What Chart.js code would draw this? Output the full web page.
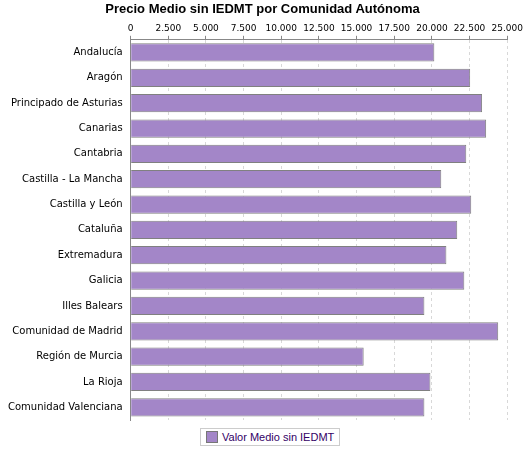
<!DOCTYPE html>
<html><head><meta charset="utf-8">
<script src="https://cdn.jsdelivr.net/npm/chart.js@4"></script>
<style>body{margin:0;background:#fff}#w{position:relative;width:525px;height:450px}
#t{position:absolute;top:1px;left:0;width:525px;text-align:center;font:bold 13px "Liberation Sans";color:#000;line-height:16px}
#lg{position:absolute;left:200px;top:428px;border:1px solid #ccc;padding:2px 5px;font:11px "Liberation Sans";color:#330066;background:#fff}
#lg span{display:inline-block;width:10px;height:10px;background:#a386c8;border:1px solid #777;vertical-align:-2px;margin-right:4px}</style>
</head><body><div id="w"><div id="t">Precio Medio sin IEDMT por Comunidad Autónoma</div>
<canvas id="c" width="525" height="450"></canvas>
<div id="lg"><span></span>Valor Medio sin IEDMT</div></div>
<script>
const categories=["Andalucía","Aragón","Principado de Asturias","Canarias","Cantabria","Castilla - La Mancha","Castilla y León","Cataluña","Extremadura","Galicia","Illes Balears","Comunidad de Madrid","Región de Murcia","La Rioja","Comunidad Valenciana"];
const values=[20160,22540,23330,23600,22280,20620,22610,21680,20960,22150,19500,24400,15470,19900,19500];
const seriesName="Valor Medio sin IEDMT";
new Chart(document.getElementById('c'),{type:'bar',
data:{labels:categories,datasets:[{label:seriesName,data:values,backgroundColor:'#a386c8',borderColor:'#808080',borderWidth:1,categoryPercentage:1,barPercentage:0.72}]},
options:{indexAxis:'y',responsive:false,animation:false,
layout:{padding:{top:21,right:17,bottom:30,left:4}},
plugins:{legend:{display:false},tooltip:{enabled:false}},
scales:{x:{position:'top',min:0,max:25000,ticks:{stepSize:2500,color:'#000',font:{family:'DejaVu Sans',size:9},padding:2,callback:v=>v.toLocaleString('de-DE')},
grid:{color:'#d8d8d8',tickColor:'#888',tickLength:4,drawTicks:true},border:{color:'#888',dash:[3,3]}},
y:{ticks:{color:'#000',font:{family:'DejaVu Sans',size:10},padding:4},grid:{display:false,tickLength:4},border:{color:'#888'}}}}});
</script></body></html>
